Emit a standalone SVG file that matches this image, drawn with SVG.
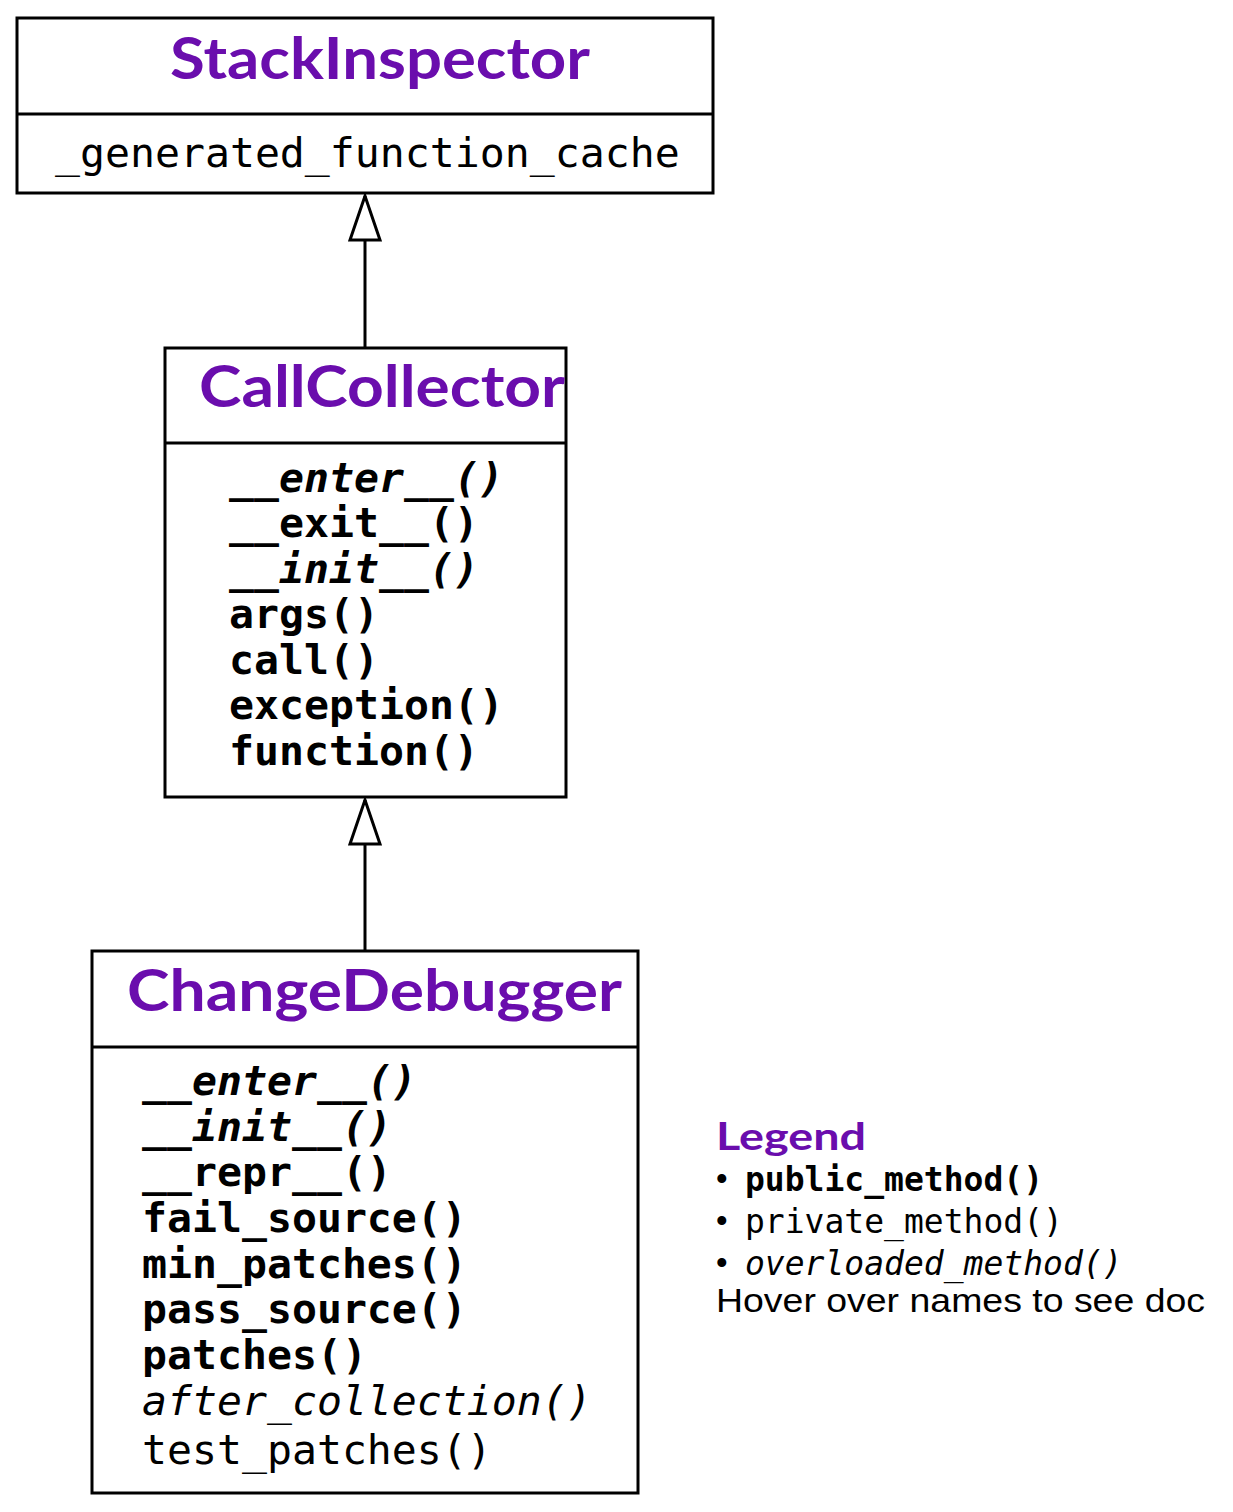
<svg xmlns="http://www.w3.org/2000/svg" width="1233" height="1512" viewBox="0 0 1233 1512">
<style>
.box{fill:#fff;stroke:#000;stroke-width:3}
.div{stroke:#000;stroke-width:3}
.title{font-family:"Lato","Noto Sans","Liberation Sans",sans-serif;font-weight:bold;font-size:58px;fill:#6A0DAD}
.m{font-family:"DejaVu Sans Mono","Liberation Mono",monospace;font-size:41.5px;fill:#000}
.b{font-weight:bold}
.i{font-style:italic}
.lg{font-family:"DejaVu Sans Mono","Liberation Mono",monospace;font-size:33px;fill:#000}
.lt{font-family:"Liberation Sans","Arial",sans-serif;font-size:33px;fill:#000}
.edge{stroke:#000;stroke-width:3;fill:none}
</style>
<defs>
<marker id="inh" markerUnits="userSpaceOnUse" viewBox="-3 -18 50 36" refX="44" refY="0" markerWidth="50" markerHeight="36" orient="auto">
<path d="M0,-15 L44,0 L0,15 Z" fill="#fff" stroke="#000" stroke-width="3"/>
</marker>
</defs>
<rect width="1233" height="1512" fill="#fff"/>
<g id="connectors">
<line class="edge" x1="365" y1="348" x2="365" y2="196" marker-end="url(#inh)"/>
<line class="edge" x1="365" y1="951" x2="365" y2="800" marker-end="url(#inh)"/>
</g>
<g id="StackInspector">
<rect class="box" x="17" y="18" width="696" height="175"/>
<line class="div" x1="17" y1="114" x2="713" y2="114"/>
<text class="title" x="170" y="79" textLength="420" lengthAdjust="spacingAndGlyphs">StackInspector</text>
<text class="m" x="55" y="167">_generated_function_cache</text>
</g>
<g id="CallCollector">
<rect class="box" x="165" y="348" width="401" height="449"/>
<line class="div" x1="165" y1="443" x2="566" y2="443"/>
<text class="title" x="199" y="407" textLength="366" lengthAdjust="spacingAndGlyphs">CallCollector</text>
<text class="m b" x="229" y="492"><tspan>__</tspan><tspan class="i">enter__()</tspan></text>
<text class="m b" x="229" y="537">__exit__()</text>
<text class="m b" x="229" y="583"><tspan>__</tspan><tspan class="i">init__()</tspan></text>
<text class="m b" x="229" y="628">args()</text>
<text class="m b" x="229" y="674">call()</text>
<text class="m b" x="229" y="719">exception()</text>
<text class="m b" x="229" y="765">function()</text>
</g>
<g id="ChangeDebugger">
<rect class="box" x="92" y="951" width="546" height="542"/>
<line class="div" x1="92" y1="1047" x2="638" y2="1047"/>
<text class="title" x="127" y="1011" textLength="495" lengthAdjust="spacingAndGlyphs">ChangeDebugger</text>
<text class="m b" x="142" y="1095"><tspan>__</tspan><tspan class="i">enter__()</tspan></text>
<text class="m b" x="142" y="1141"><tspan>__</tspan><tspan class="i">init__()</tspan></text>
<text class="m b" x="142" y="1186">__repr__()</text>
<text class="m b" x="142" y="1232">fail_source()</text>
<text class="m b" x="142" y="1278">min_patches()</text>
<text class="m b" x="142" y="1323">pass_source()</text>
<text class="m b" x="142" y="1369">patches()</text>
<text class="m i" x="142" y="1415">after_collection()</text>
<text class="m" x="142" y="1464">test_patches()</text>
</g>
<g id="Legend">
<text class="title" x="716" y="1150" style="font-size:38px" textLength="150" lengthAdjust="spacingAndGlyphs">Legend</text>
<text class="lt" x="716" y="1190">•</text>
<text class="lg b" x="745" y="1191">public_method()</text>
<text class="lt" x="716" y="1232">•</text>
<text class="lg" x="745" y="1233">private_method()</text>
<text class="lt" x="716" y="1274">•</text>
<text class="lg i" x="745" y="1275">overloaded_method()</text>
<text class="lt" x="716" y="1312" textLength="489" lengthAdjust="spacingAndGlyphs">Hover over names to see doc</text>
</g>
</svg>
